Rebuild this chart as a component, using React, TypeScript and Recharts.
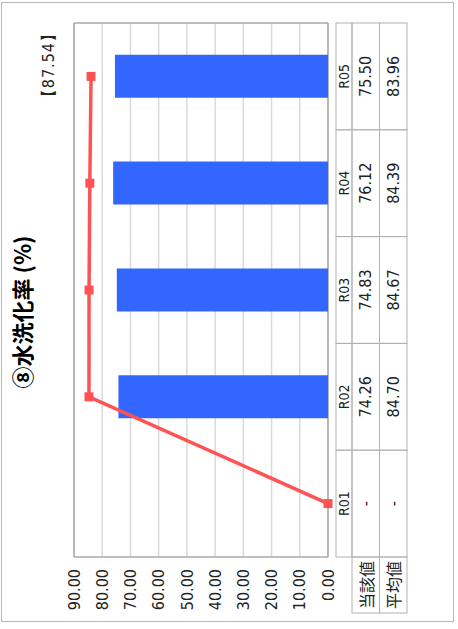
import React from "react";
import { ComposedChart, Bar, Line, XAxis, YAxis, CartesianGrid } from "recharts";

// values per fiscal year
const categories = ["R01", "R02", "R03", "R04", "R05"];
const currentValues: (number | null)[] = [null, 74.26, 74.83, 76.12, 75.5];
const averageValues: (number | null)[] = [null, 84.7, 84.67, 84.39, 83.96];
const yTicks = [0, 10, 20, 30, 40, 50, 60, 70, 80, 90];
const rowLabels = ["当該値", "平均値"];
const title = "⑧水洗化率 (%)";
const referenceValue = "【87.54】";

// layout of the (landscape) chart before it is turned on its side
const W = 629;
const H = 458;
const X_AXIS_H = 80;
const MARGIN = { top: 74, right: 23, bottom: 130 - X_AXIS_H, left: 12 };
const Y_AXIS_W = 60;
const PLOT_W = W - MARGIN.left - Y_AXIS_W - MARGIN.right;
const HEAD_H = 16;
const ROW_H = 27.5;
const LABEL_W = 56;

const NUM_FONT = "'Liberation Sans Narrow', 'DejaVu Sans Condensed', 'Liberation Sans', sans-serif";
const JP_FONT = "'Noto Sans CJK JP', sans-serif";
const TABLE_LINE = "#b2b2b2";
const BAR_COLOR = "#3366ff";
const LINE_COLOR = "#ff5252";

const data = categories.map((name, i) => ({
  name,
  current: currentValues[i],
  // the average line falls back to zero where no value is published
  average: averageValues[i] ?? 0,
}));

const fmt = (v: number | null) => (v == null ? "-" : v.toFixed(2));

function SquareDot(props: any) {
  const { cx, cy } = props;
  if (cx == null || cy == null) return null;
  return <rect x={cx - 4.5} y={cy - 4.5} width={9} height={9} fill={LINE_COLOR} />;
}

// data table under the plot, one column per category tick
function TableTick(props: any) {
  const { x, y, index } = props;
  const cw = PLOT_W / categories.length;
  const left = x - cw / 2;
  const rows = [currentValues[index], averageValues[index]];
  return (
    <g>
      <rect x={left} y={y} width={cw} height={HEAD_H} fill="none" stroke={TABLE_LINE} />
      <text
        x={x}
        y={y + HEAD_H / 2}
        textAnchor="middle"
        dominantBaseline="central"
        fontSize={14}
        fontFamily={NUM_FONT}
        fill="#222"
      >
        {categories[index]}
      </text>
      {rows.map((v, r) => {
        const top = y + HEAD_H + r * ROW_H;
        return (
          <g key={r}>
            <rect x={left} y={top} width={cw} height={ROW_H} fill="none" stroke={TABLE_LINE} />
            <text
              x={x}
              y={top + ROW_H / 2}
              textAnchor="middle"
              dominantBaseline="central"
              fontSize={16}
              fontFamily={NUM_FONT}
              fill="#222"
            >
              {fmt(v)}
            </text>
          </g>
        );
      })}
      {index === 0 &&
        rowLabels.map((label, r) => {
          const top = y + HEAD_H + r * ROW_H;
          return (
            <g key={label}>
              <rect x={left - LABEL_W} y={top} width={LABEL_W} height={ROW_H} fill="none" stroke={TABLE_LINE} />
              <text
                x={left - LABEL_W / 2}
                y={top + ROW_H / 2}
                textAnchor="middle"
                dominantBaseline="central"
                fontSize={16}
                fontFamily={JP_FONT}
                fill="#222"
              >
                {label}
              </text>
            </g>
          );
        })}
    </g>
  );
}

export default function App() {
  return (
    <div style={{ position: "fixed", left: 0, top: 0, width: H, height: W, overflow: "hidden", background: "#fff" }}>
      <div
        style={{
          position: "absolute",
          left: 0,
          top: 0,
          width: W,
          height: H,
          transformOrigin: "0 0",
          transform: `translateY(${W}px) rotate(-90deg)`,
          background: "#fff",
        }}
      >
        <div
          style={{
            position: "absolute",
            left: 7,
            top: 1,
            width: 620,
            height: 453,
            border: "1px solid #b8b8b8",
            boxSizing: "border-box",
          }}
        />
        <div
          style={{
            position: "absolute",
            left: 0,
            top: 6,
            width: 634,
            height: 30,
            lineHeight: "30px",
            textAlign: "center",
            fontFamily: JP_FONT,
            fontWeight: 700,
            fontSize: 22,
            color: "#000",
          }}
        >
          {title}
        </div>
        <div
          style={{
            position: "absolute",
            right: 25,
            top: 40,
            lineHeight: "18px",
            fontFamily: NUM_FONT,
            fontSize: 16,
            letterSpacing: 1,
            color: "#222",
          }}
        >
          {referenceValue}
        </div>
        <ComposedChart width={W} height={H} data={data} margin={MARGIN} style={{ position: "absolute", left: 0, top: 0 }}>
          <CartesianGrid vertical={false} stroke="#d9d9d9" strokeWidth={1.5} />
          <CartesianGrid
            stroke="#a8a8a8"
            strokeWidth={1.5}
            horizontalCoordinatesGenerator={(p: any) =>
              p && p.offset ? [p.offset.top, p.offset.top + p.offset.height] : []
            }
            verticalCoordinatesGenerator={(p: any) =>
              p && p.offset ? [p.offset.left, p.offset.left + p.offset.width] : []
            }
          />
          <XAxis
            dataKey="name"
            height={X_AXIS_H}
            interval={0}
            axisLine={false}
            tickLine={false}
            tickSize={0}
            tickMargin={8}
            tick={<TableTick />}
          />
          <YAxis
            width={Y_AXIS_W}
            domain={[0, 90]}
            ticks={yTicks}
            interval={0}
            axisLine={false}
            tickLine={false}
            tickSize={0}
            tickMargin={12}
            tickFormatter={(v: number) => v.toFixed(2)}
            tick={{ fontSize: 16, fill: "#222", fontFamily: NUM_FONT }}
          />
          <Bar dataKey="current" fill={BAR_COLOR} barSize={43} isAnimationActive={false} />
          <Line
            dataKey="average"
            type="linear"
            stroke={LINE_COLOR}
            strokeWidth={3.5}
            dot={<SquareDot />}
            activeDot={false}
            isAnimationActive={false}
          />
        </ComposedChart>
      </div>
    </div>
  );
}
